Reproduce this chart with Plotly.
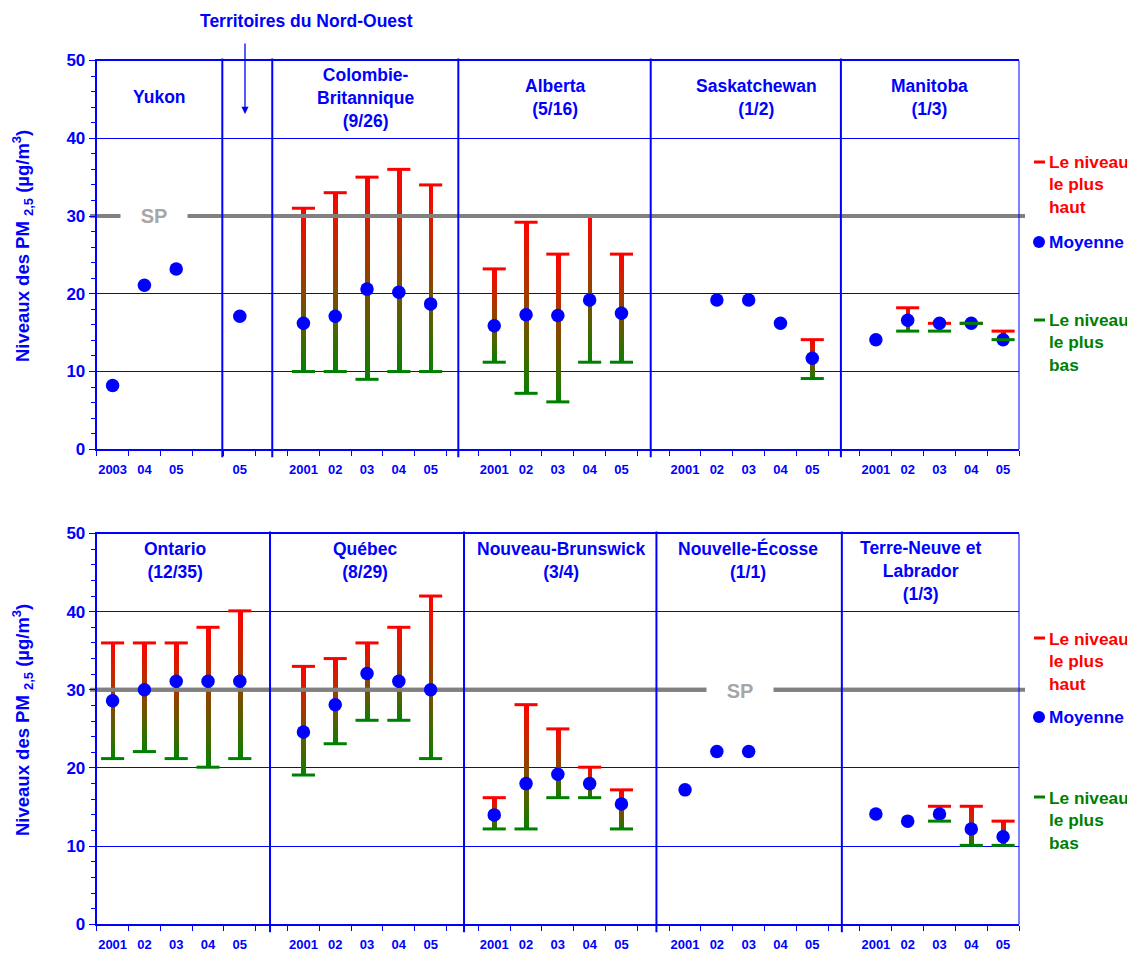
import plotly.graph_objects as go

W, H = 1135, 954
OX, OY = 8, 8          # page (body) margin compensation
BLUE = "#0000FF"
RED = "#FF0000"
GREEN = "#008000"
GREY = "#808080"
SPTXT = "#A6A6A6"
FONT = "Liberation Sans, Arial, sans-serif"

SP_LEVEL = 30

# ---------------- top panel data (29 category slots) ----------------
top_labels = ["2003", "04", "05", "", "05", "",
              "2001", "02", "03", "04", "05", "",
              "2001", "02", "03", "04", "05", "",
              "2001", "02", "03", "04", "05", "",
              "2001", "02", "03", "04", "05"]
top_mean = [8.2, 21.1, 23.2, None, 17.1, None,
            16.2, 17.1, 20.6, 20.2, 18.7, None,
            15.9, 17.3, 17.2, 19.2, 17.5, None,
            None, 19.2, 19.2, 16.2, 11.7, None,
            14.1, 16.6, 16.2, 16.2, 14.1]
top_max = [None, None, None, None, None, None,
           31, 33, 35, 36, 34, None,
           23.2, 29.2, 25.1, 30, 25.1, None,
           None, None, None, None, 14.1, None,
           None, 18.2, 16.2, 16.2, 15.2]
top_min = [None, None, None, None, None, None,
           10, 10, 9, 10, 10, None,
           11.2, 7.2, 6.1, 11.2, 11.2, None,
           None, None, None, None, 9.1, None,
           None, 15.2, 15.2, 16.2, 14.1]

# ---------------- bottom panel data ----------------
bot_labels = ["2001", "02", "03", "04", "05", "",
              "2001", "02", "03", "04", "05", "",
              "2001", "02", "03", "04", "05", "",
              "2001", "02", "03", "04", "05", "",
              "2001", "02", "03", "04", "05"]
bot_mean = [28.6, 30.0, 31.1, 31.1, 31.1, None,
            24.6, 28.1, 32.1, 31.1, 30.0, None,
            14.0, 18.0, 19.2, 18.0, 15.4, None,
            17.2, 22.1, 22.1, None, None, None,
            14.1, 13.2, 14.1, 12.2, 11.2]
bot_max = [36, 36, 36, 38, 40.1, None,
           33, 34, 36, 38, 42, None,
           16.2, 28.1, 25, 20.1, 17.2, None,
           None, None, None, None, None, None,
           None, None, 15.1, 15.1, 13.2]
bot_min = [21.2, 22.1, 21.2, 20.1, 21.2, None,
           19.1, 23.1, 26.1, 26.1, 21.2, None,
           12.2, 12.2, 16.2, 16.2, 12.2, None,
           None, None, None, None, None, None,
           None, None, 13.2, 10.1, 10.1]

top_headers = ["Yukon", "Colombie-<br>Britannique<br>(9/26)", "Alberta<br>(5/16)",
               "Saskatchewan<br>(1/2)", "Manitoba<br>(1/3)"]
bot_headers = ["Ontario<br>(12/35)", "Québec<br>(8/29)", "Nouveau-Brunswick<br>(3/4)",
               "Nouvelle-Écosse<br>(1/1)", "Terre-Neuve et<br>Labrador<br>(1/3)"]


# ---------------- helpers (screen pixel -> paper) ----------------
def PX(x):
    return (x - OX) / W


def PY(y):
    return 1 - (y - OY) / H


X_LEFT, X_RIGHT = 96.7, 1019.0
TOP_Y50, TOP_Y0 = 60.5, 449.3
BOT_Y50, BOT_Y0 = 533.5, 924.3


def gradient_bars(maxs, mins, xa, ya, n=40):
    xs, bases, hs, cols = [], [], [], []
    for i, (hi, lo) in enumerate(zip(maxs, mins)):
        if hi is None or lo is None or hi <= lo:
            continue
        step = (hi - lo) / n
        for k in range(n):
            t = (k + 0.5) / n
            xs.append(i)
            bases.append(lo + k * step)
            hs.append(step * 1.08 if k < n - 1 else step)
            r = int(round(255 * t ** 0.85))
            g = int(round(128 * (1 - t) ** 0.9))
            cols.append(f"rgb({r},{g},0)")
    return go.Bar(x=xs, y=hs, base=bases, width=0.15, marker=dict(color=cols, line=dict(width=0)),
                  xaxis=xa, yaxis=ya, hoverinfo="skip", showlegend=False)


def caps(vals, color, xa, ya):
    xs = [i for i, v in enumerate(vals) if v is not None]
    ys = [v for v in vals if v is not None]
    return go.Scatter(x=xs, y=ys, mode="markers", xaxis=xa, yaxis=ya, hoverinfo="skip",
                      showlegend=False, cliponaxis=False,
                      marker=dict(symbol="line-ew", size=16.5, color=color,
                                  line=dict(color=color, width=3)))


def means(vals, xa, ya):
    xs = [i for i, v in enumerate(vals) if v is not None]
    ys = [v for v in vals if v is not None]
    return go.Scatter(x=xs, y=ys, mode="markers", xaxis=xa, yaxis=ya, hoverinfo="skip",
                      showlegend=False, cliponaxis=False,
                      marker=dict(symbol="circle", size=13.5, color=BLUE, line=dict(width=0)))


def sp_line(n, xa, ya):
    return go.Scatter(x=[-0.5, n - 0.5], y=[SP_LEVEL, SP_LEVEL], mode="lines", xaxis=xa, yaxis=ya,
                      hoverinfo="skip", showlegend=False, line=dict(color=GREY, width=4))


fig = go.Figure()
panels = [
    ("x", "y", top_labels, top_mean, top_max, top_min),
    ("x2", "y2", bot_labels, bot_mean, bot_max, bot_min),
]
for xa, ya, labels, mn, mx, mi in panels:
    fig.add_trace(gradient_bars(mx, mi, xa, ya))
    fig.add_trace(caps(mx, RED, xa, ya))
    fig.add_trace(sp_line(len(labels), xa, ya))
    fig.add_trace(means(mn, xa, ya))
    fig.add_trace(caps(mi, GREEN, xa, ya))


def xaxis_cfg(labels):
    n = len(labels)
    return dict(domain=[PX(X_LEFT), PX(X_RIGHT)], range=[-0.5, n - 0.5],
                tickmode="array", tickvals=list(range(n)), ticktext=labels,
                ticks="", ticklabelstandoff=7, automargin=False,
                tickfont=dict(family=FONT, size=13, color=BLUE, weight="bold"),
                minor=dict(tickmode="linear", tick0=-0.5, dtick=1, ticks="outside",
                           ticklen=5, tickwidth=1, tickcolor=BLUE, showgrid=False),
                showline=True, linecolor=BLUE, linewidth=2, mirror=True,
                showgrid=False, zeroline=False, fixedrange=True)


def yaxis_cfg(y50, y0, anchor):
    return dict(domain=[PY(y0), PY(y50)], range=[0, 50], anchor=anchor, automargin=False,
                tickmode="array", tickvals=[0, 10, 20, 30, 40, 50],
                ticks="outside", ticklen=6, tickwidth=1, tickcolor=BLUE,
                minor=dict(tickmode="linear", tick0=0, dtick=2, ticks="outside",
                           ticklen=4, tickwidth=1, tickcolor=BLUE, showgrid=False),
                tickfont=dict(family=FONT, size=17, color=BLUE, weight="bold"),
                showgrid=True, gridcolor=BLUE, gridwidth=1,
                showline=True, linecolor=BLUE, linewidth=2,
                zeroline=False, fixedrange=True)


layout = dict(
    width=W, height=H, margin=dict(l=0, r=0, t=0, b=0, autoexpand=False),
    paper_bgcolor="white", plot_bgcolor="white",
    barmode="overlay", bargap=0, showlegend=False,
    xaxis=dict(xaxis_cfg(top_labels), anchor="y"),
    yaxis=yaxis_cfg(TOP_Y50, TOP_Y0, "x"),
    xaxis2=dict(xaxis_cfg(bot_labels), anchor="y2"),
    yaxis2=yaxis_cfg(BOT_Y50, BOT_Y0, "x2"),
)
fig.update_layout(**layout)

shapes = []
# panel separators
for xs, xref, ytop, ybot in [([3.45, 5.02, 10.87, 16.92, 22.9], "x", TOP_Y50 - 2, TOP_Y0 + 8),
                             ([4.95, 11.05, 17.1, 22.93], "x2", BOT_Y50 - 2, BOT_Y0 + 8)]:
    for xv in xs:
        shapes.append(dict(type="line", xref=xref, yref="paper", x0=xv, x1=xv,
                           y0=PY(ybot), y1=PY(ytop), line=dict(color=BLUE, width=2), layer="above"))
    # right border
    shapes.append(dict(type="line", xref="paper", yref="paper", x0=PX(X_RIGHT), x1=PX(X_RIGHT),
                       y0=PY(ybot - 8), y1=PY(ytop + 2), line=dict(color=BLUE, width=1)))
# SP grey lines extending past the plot area
for yref in ["y", "y2"]:
    shapes.append(dict(type="line", xref="paper", yref=yref, x0=PX(90), x1=PX(1025),
                       y0=SP_LEVEL, y1=SP_LEVEL, line=dict(color=GREY, width=4), layer="below"))

# side legend marks
for y_hi, y_mean, y_lo in [(162, 242, 320), (638, 717, 797)]:
    shapes.append(dict(type="line", xref="paper", yref="paper", x0=PX(1034), x1=PX(1045),
                       y0=PY(y_hi), y1=PY(y_hi), line=dict(color=RED, width=3)))
    shapes.append(dict(type="circle", xref="paper", yref="paper", x0=PX(1033), x1=PX(1045),
                       y0=PY(y_mean + 6), y1=PY(y_mean - 6), fillcolor=BLUE, line=dict(width=0)))
    shapes.append(dict(type="line", xref="paper", yref="paper", x0=PX(1034), x1=PX(1045),
                       y0=PY(y_lo), y1=PY(y_lo), line=dict(color=GREEN, width=3)))
fig.update_layout(shapes=shapes)

ann = []
hdr_font = dict(family=FONT, size=17.5, color=BLUE, weight="bold")
top_hdr_pos = [(1.49, 45.3), (7.96, 45.2), (13.93, 45.3), (20.25, 45.3), (25.7, 45.3)]
bot_hdr_pos = [(1.97, 46.6), (7.95, 46.6), (14.1, 46.6), (19.97, 46.6), (25.4, 45.2)]
for txt, (xv, yv) in zip(top_headers, top_hdr_pos):
    ann.append(dict(text=txt, x=xv, y=yv, xref="x", yref="y", showarrow=False,
                    xanchor="center", yanchor="middle", font=hdr_font, align="center"))
for txt, (xv, yv) in zip(bot_headers, bot_hdr_pos):
    ann.append(dict(text=txt, x=xv, y=yv, xref="x2", yref="y2", showarrow=False,
                    xanchor="center", yanchor="middle", font=hdr_font, align="center"))

# Territoires du Nord-Ouest + arrow
ann.append(dict(text="Territoires du Nord-Ouest", x=PX(306), y=PY(21), xref="paper", yref="paper",
                xanchor="center", yanchor="middle", showarrow=False, font=hdr_font))
ann.append(dict(text="", x=PX(245), y=PY(114), xref="paper", yref="paper", showarrow=True,
                ax=0, ay=-72, arrowhead=2, arrowsize=1.1, arrowwidth=1.3, arrowcolor=BLUE))

# SP labels
sp_font = dict(family=FONT, size=20, color=SPTXT, weight="bold")
for xp, yp in [(154, 216), (740, 691)]:
    ann.append(dict(text="SP", x=PX(xp), y=PY(yp), xref="paper", yref="paper", showarrow=False,
                    xanchor="center", yanchor="middle",
                    font=sp_font, bgcolor="white", width=62, height=18, borderpad=2))

# y axis titles
ytitle = "Niveaux des PM <sub>2,5</sub> (µg/m<sup>3</sup>)"
for yc in [246, 720]:
    ann.append(dict(text=ytitle, x=PX(22), y=PY(yc), xref="paper", yref="paper", showarrow=False,
                    xanchor="center", yanchor="middle", textangle=-90,
                    font=dict(family=FONT, size=18.5, color=BLUE, weight="bold")))

# side legend texts
leg_font = 17.3
for y_hi, y_mean, y_lo in [(185, 242, 343), (661, 717, 820)]:
    ann.append(dict(text="Le niveau<br>le plus<br>haut", x=PX(1047), y=PY(y_hi), xref="paper",
                    yref="paper", xanchor="left", yanchor="middle", align="left", showarrow=False,
                    font=dict(family=FONT, size=leg_font, color=RED, weight="bold")))
    ann.append(dict(text="Moyenne", x=PX(1047), y=PY(y_mean), xref="paper", yref="paper",
                    xanchor="left", yanchor="middle", showarrow=False,
                    font=dict(family=FONT, size=leg_font, color=BLUE, weight="bold")))
    ann.append(dict(text="Le niveau<br>le plus<br>bas", x=PX(1047), y=PY(y_lo), xref="paper",
                    yref="paper", xanchor="left", yanchor="middle", align="left", showarrow=False,
                    font=dict(family=FONT, size=leg_font, color=GREEN, weight="bold")))

fig.update_layout(annotations=ann)
fig.write_html("out.html")
